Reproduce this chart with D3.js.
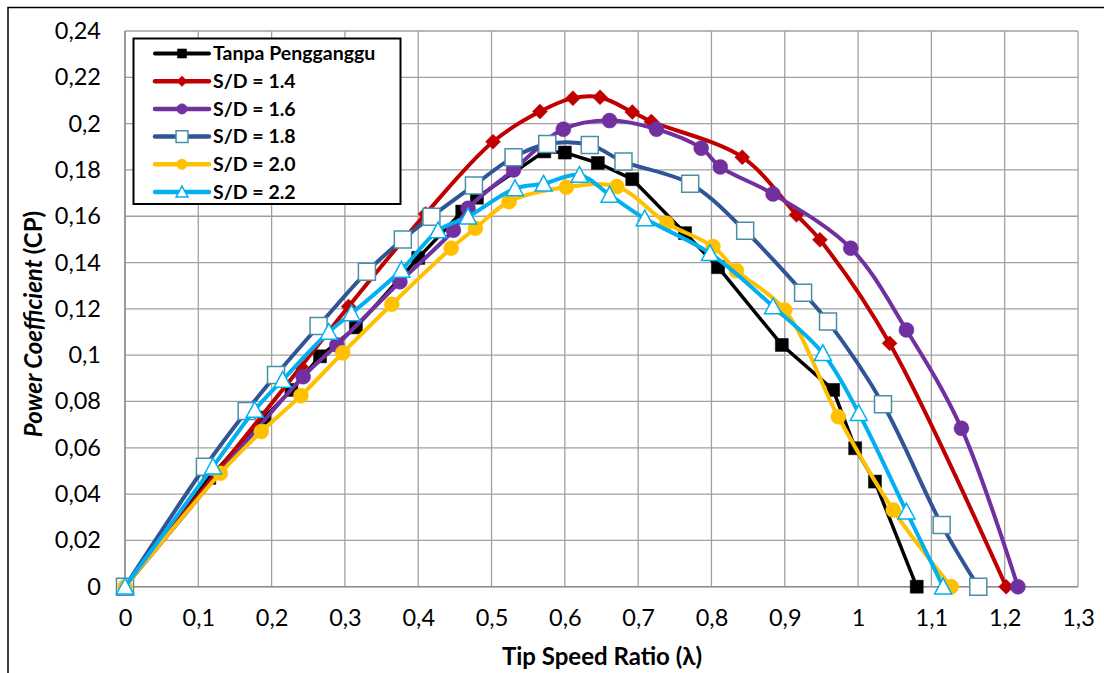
<!DOCTYPE html>
<html>
<head>
<meta charset="utf-8">
<script src="https://cdn.jsdelivr.net/npm/d3@7"></script>
<style>
  html, body { margin: 0; padding: 0; background: #fff; }
  svg { display: block; }
  text { font-family: Lato, "Open Sans", "Liberation Sans", sans-serif; fill: #000; }
</style>
</head>
<body>
<svg id="chart" width="1104" height="673"></svg>
<script>
// Tip speed ratio (lambda) and power coefficient (CP) for each configuration
const tanpaX = [0, 0.115, 0.19, 0.227, 0.266, 0.315, 0.40, 0.46, 0.48, 0.572, 0.600, 0.645, 0.692, 0.764, 0.809, 0.896, 0.966, 0.996, 1.023, 1.080];
const tanpaY = [0, 0.047, 0.073, 0.085, 0.0995, 0.112, 0.142, 0.162, 0.168, 0.188, 0.1875, 0.183, 0.176, 0.1527, 0.138, 0.1044, 0.085, 0.0598, 0.0454, 0];

const sd14X = [0, 0.24, 0.305, 0.41, 0.502, 0.566, 0.611, 0.648, 0.692, 0.718, 0.842, 0.916, 0.948, 1.043, 1.202];
const sd14Y = [0, 0.095, 0.121, 0.161, 0.1922, 0.2052, 0.211, 0.2114, 0.205, 0.2009, 0.1855, 0.1606, 0.1498, 0.1051, 0];

const sd16X = [0, 0.243, 0.289, 0.375, 0.448, 0.468, 0.530, 0.598, 0.661, 0.725, 0.786, 0.812, 0.884, 0.990, 1.066, 1.141, 1.218];
const sd16Y = [0, 0.0907, 0.1044, 0.1317, 0.154, 0.1634, 0.180, 0.1976, 0.2013, 0.1976, 0.1894, 0.1813, 0.1696, 0.1462, 0.1109, 0.0684, 0];

const sd18X = [0, 0.109, 0.166, 0.206, 0.264, 0.330, 0.379, 0.418, 0.476, 0.530, 0.576, 0.634, 0.680, 0.771, 0.846, 0.925, 0.959, 1.034, 1.114, 1.164];
const sd18Y = [0, 0.0518, 0.0759, 0.0914, 0.1126, 0.136, 0.150, 0.1598, 0.1733, 0.1855, 0.1912, 0.1908, 0.1836, 0.174, 0.1537, 0.127, 0.1145, 0.0788, 0.0267, 0];

const sd20X = [0, 0.130, 0.186, 0.240, 0.297, 0.364, 0.445, 0.478, 0.524, 0.602, 0.671, 0.739, 0.802, 0.834, 0.900, 0.973, 1.048, 1.127];
const sd20Y = [0, 0.049, 0.067, 0.0825, 0.101, 0.122, 0.1462, 0.1548, 0.1663, 0.1725, 0.1728, 0.157, 0.1469, 0.1365, 0.1195, 0.0734, 0.0331, 0];

const sd22X = [0, 0.120, 0.177, 0.215, 0.278, 0.309, 0.377, 0.427, 0.468, 0.532, 0.571, 0.620, 0.661, 0.709, 0.798, 0.884, 0.952, 1.001, 1.066, 1.116];
const sd22Y = [0, 0.0518, 0.0763, 0.0893, 0.110, 0.118, 0.1368, 0.1538, 0.1598, 0.172, 0.174, 0.1778, 0.1692, 0.159, 0.144, 0.121, 0.1008, 0.0749, 0.0324, 0];

const seriesNames = ["Tanpa Pengganggu", "S/D = 1.4", "S/D = 1.6", "S/D = 1.8", "S/D = 2.0", "S/D = 2.2"];

const xTicks = [0, 0.1, 0.2, 0.3, 0.4, 0.5, 0.6, 0.7, 0.8, 0.9, 1, 1.1, 1.2, 1.3];
const xTickLabels = ["0", "0,1", "0,2", "0,3", "0,4", "0,5", "0,6", "0,7", "0,8", "0,9", "1", "1,1", "1,2", "1,3"];
const yTicks = [0, 0.02, 0.04, 0.06, 0.08, 0.1, 0.12, 0.14, 0.16, 0.18, 0.2, 0.22, 0.24];
const yTickLabels = ["0", "0,02", "0,04", "0,06", "0,08", "0,1", "0,12", "0,14", "0,16", "0,18", "0,2", "0,22", "0,24"];

// Drawing styles per series
const styles = [
  { line: "#000000", width: 3.5, curve: d3.curveLinear, marker: "square", size: 13, fill: "#000000", stroke: "#000000" },
  { line: "#C00000", width: 4, curve: d3.curveCatmullRom, marker: "diamond", size: 15, fill: "#C00000", stroke: "#C00000" },
  { line: "#7030A0", width: 4, curve: d3.curveCatmullRom, marker: "circle", size: 15, fill: "#7030A0", stroke: "#7030A0" },
  { line: "#2F5597", width: 4, curve: d3.curveCatmullRom, marker: "square", size: 17, fill: "#FFFFFF", stroke: "#4A8FA8" },
  { line: "#FFC000", width: 4, curve: d3.curveCatmullRom, marker: "circle", size: 15, fill: "#FFC000", stroke: "#FFC000" },
  { line: "#00B0F0", width: 4, curve: d3.curveCatmullRom, marker: "triangle", size: 17, fill: "#FFFFFF", stroke: "#00B0F0" }
];

const seriesData = [
  [tanpaX, tanpaY], [sd14X, sd14Y], [sd16X, sd16Y], [sd18X, sd18Y], [sd20X, sd20Y], [sd22X, sd22Y]
].map(([xs, ys], i) => ({ name: seriesNames[i], style: styles[i], points: xs.map((x, j) => ({ x, y: ys[j] })) }));

const svg = d3.select("#chart");

// Outer chart frame
svg.append("rect").attr("x", 8).attr("y", 7.5).attr("width", 1110).attr("height", 700)
  .attr("fill", "none").attr("stroke", "#000").attr("stroke-width", 1.5);

const x = d3.scaleLinear().domain([0, 1.3]).range([125, 1078]);
const y = d3.scaleLinear().domain([0, 0.24]).range([586.7, 31]);

// Gridlines
const grid = svg.append("g");
grid.selectAll("line.v").data(xTicks).enter().append("line")
  .attr("x1", d => x(d)).attr("x2", d => x(d)).attr("y1", y(0)).attr("y2", y(0.24))
  .attr("stroke", "#A0A0A0").attr("stroke-width", 1.3);
grid.selectAll("line.h").data(yTicks).enter().append("line")
  .attr("x1", x(0)).attr("x2", x(1.3)).attr("y1", d => y(d)).attr("y2", d => y(d))
  .attr("stroke", "#A0A0A0").attr("stroke-width", 1.3);

// Axes (labels only; lines are the grid edges)
const xAxis = d3.axisBottom(x).tickValues(xTicks).tickFormat((d, i) => xTickLabels[i]).tickSize(0).tickPadding(23);
const yAxis = d3.axisLeft(y).tickValues(yTicks).tickFormat((d, i) => yTickLabels[i]).tickSize(0).tickPadding(24);
const gx = svg.append("g").attr("transform", `translate(0,${y(0)})`).call(xAxis);
const gy = svg.append("g").attr("transform", `translate(${x(0)},0)`).call(yAxis);
[gx, gy].forEach(g => {
  g.attr("font-family", null).attr("font-size", null);
  g.select(".domain").attr("stroke", "#8C8C8C").attr("stroke-width", 1.5);
  g.selectAll("text").style("font-family", "Lato, 'Open Sans', sans-serif").style("font-size", "23.5px").attr("fill", "#000");
});
gx.select(".domain").attr("d", `M${x(0)},0H${x(1.3)}`);
gy.select(".domain").attr("d", `M0,${y(0)}V${y(0.24)}`);

// Axis titles
svg.append("text").attr("x", 602).attr("y", 665).attr("text-anchor", "middle")
  .style("font-size", "24px").style("font-weight", "bold").text("Tip Speed Ratio (λ)");
const yt = svg.append("text").attr("transform", "translate(42,324) rotate(-90)").attr("text-anchor", "middle")
  .style("font-size", "24px").style("font-weight", "bold");
yt.append("tspan").style("font-style", "italic").text("Power Coefficient ");
yt.append("tspan").text("(CP)");

// Marker path generator
function markerPath(type, s) {
  const h = s / 2;
  if (type === "square") return `M${-h},${-h}H${h}V${h}H${-h}Z`;
  if (type === "diamond") return `M0,${-h}L${h},0L0,${h}L${-h},0Z`;
  if (type === "triangle") return `M0,${-h}L${h},${h * 0.85}L${-h},${h * 0.85}Z`;
  return d3.symbol(d3.symbolCircle, Math.PI * h * h)();
}

// Series lines and markers
const plot = svg.append("g");
seriesData.forEach(s => {
  const g = plot.append("g");
  const line = d3.line().x(d => x(d.x)).y(d => y(d.y)).curve(s.style.curve);
  g.append("path").datum(s.points).attr("d", line)
    .attr("fill", "none").attr("stroke", s.style.line).attr("stroke-width", s.style.width)
    .attr("stroke-linejoin", "round");
  g.selectAll("path.m").data(s.points).enter().append("path")
    .attr("transform", d => `translate(${x(d.x)},${y(d.y)})`)
    .attr("d", markerPath(s.style.marker, s.style.size))
    .attr("fill", s.style.fill).attr("stroke", s.style.stroke)
    .attr("stroke-width", s.style.fill === "#FFFFFF" ? 1.5 : 0.5);
});

// Legend
const legend = svg.append("g");
legend.append("rect").attr("x", 133.5).attr("y", 38.5).attr("width", 267).attr("height", 165.5)
  .attr("fill", "#fff").attr("stroke", "#000").attr("stroke-width", 2);
seriesData.forEach((s, i) => {
  const cy = 53.5 + i * 27.7;
  const row = legend.append("g");
  row.append("line").attr("x1", 155).attr("x2", 209).attr("y1", cy).attr("y2", cy)
    .attr("stroke", s.style.line).attr("stroke-width", s.style.width + 0.5).attr("stroke-linecap", "round");
  row.append("path").attr("transform", `translate(182,${cy})`)
    .attr("d", markerPath(s.style.marker, s.style.size * 0.7))
    .attr("fill", s.style.fill).attr("stroke", s.style.stroke)
    .attr("stroke-width", s.style.fill === "#FFFFFF" ? 1.5 : 0.5);
  row.append("text").attr("x", 213).attr("y", cy).attr("dy", "0.35em")
    .style("font-size", "19.5px").style("font-weight", "bold").text(s.name);
});
</script>
</body>
</html>
